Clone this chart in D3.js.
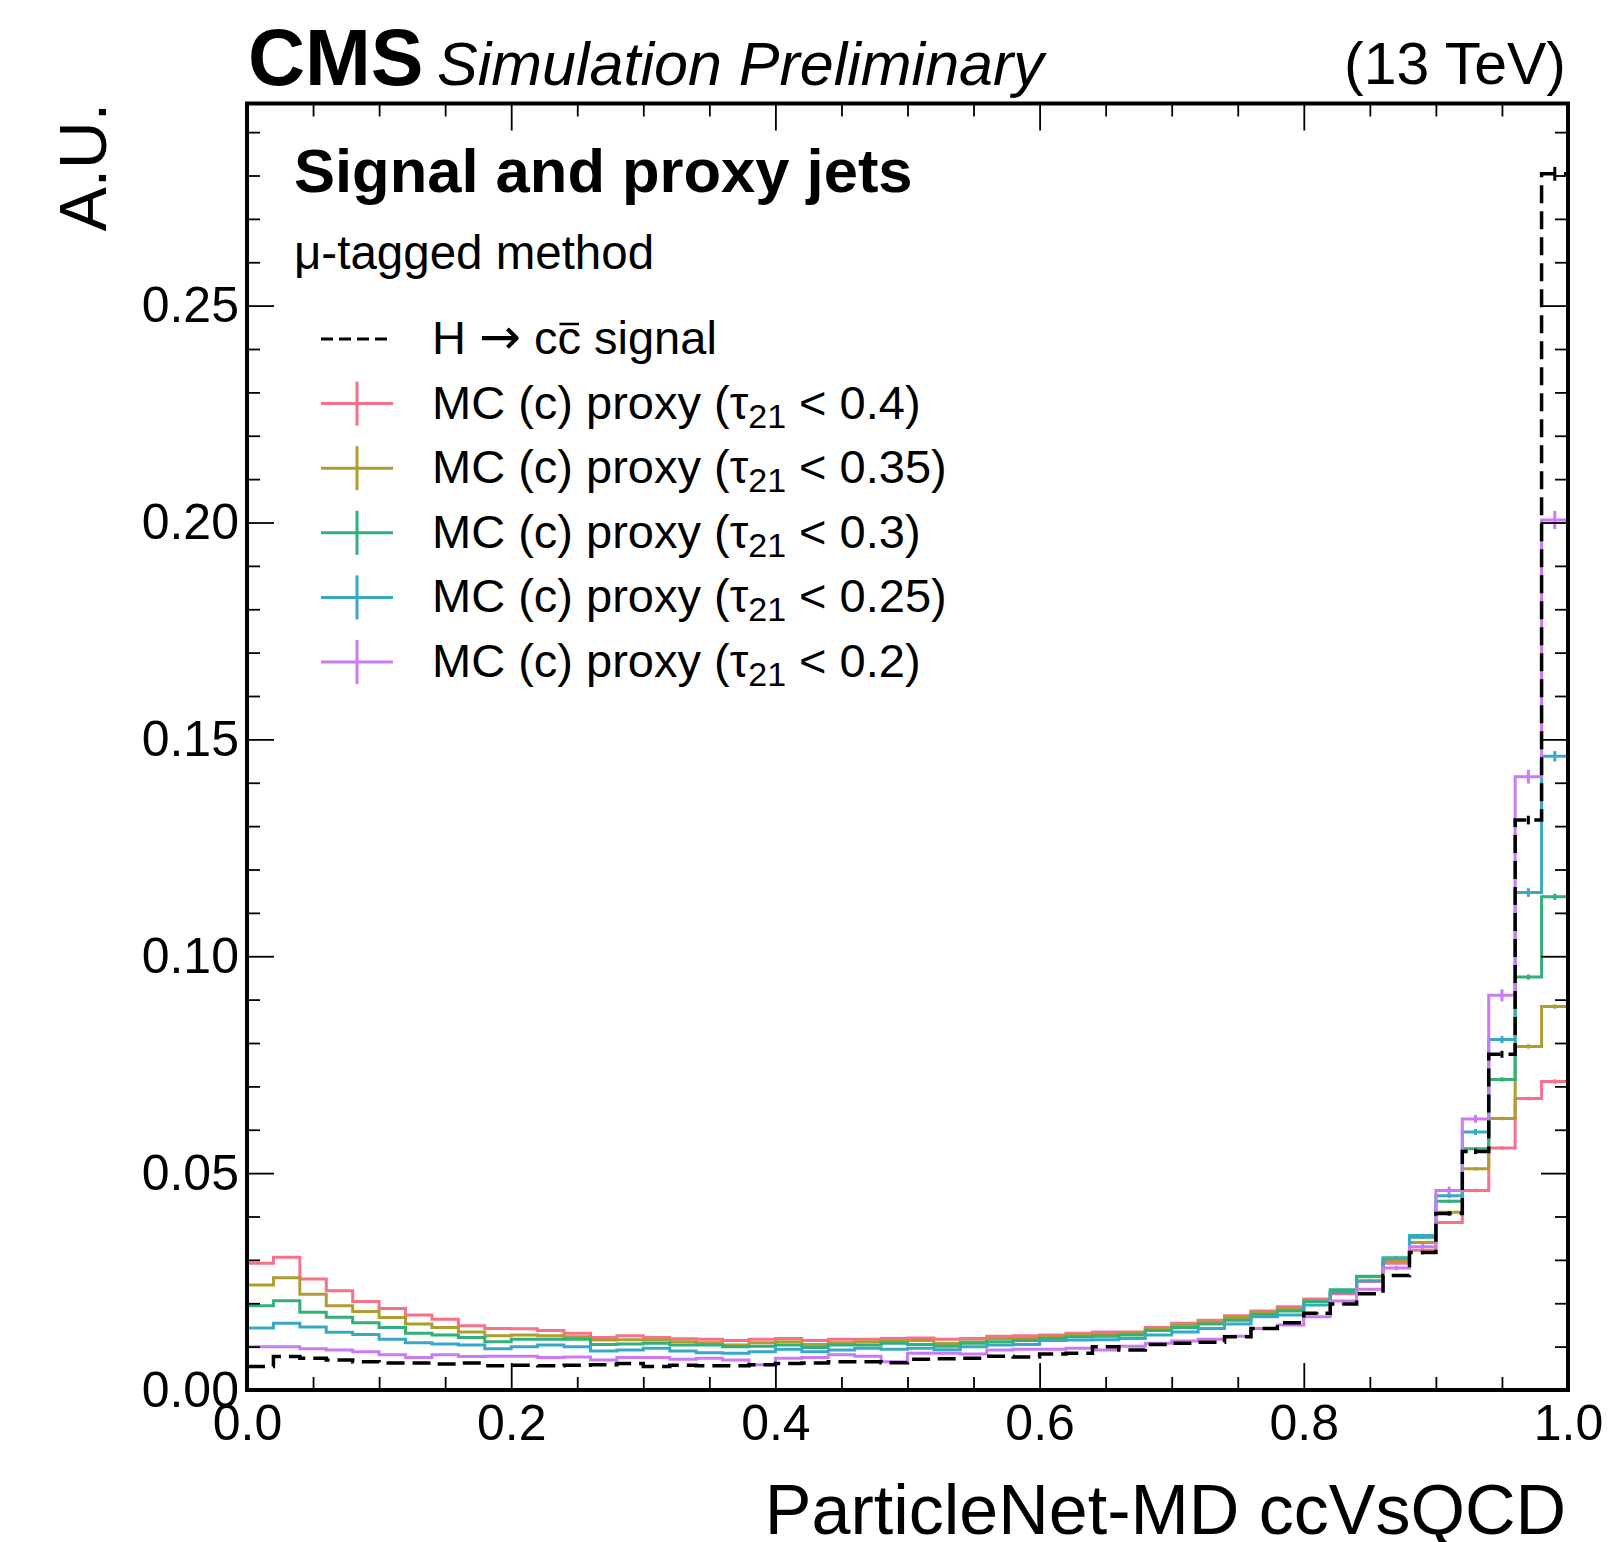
<!DOCTYPE html>
<html>
<head>
<meta charset="utf-8">
<script src="https://cdn.jsdelivr.net/npm/d3@7"></script>
<style>
  body { margin: 0; background: #fff; }
  text { font-family: "Liberation Sans", Arial, Helvetica, sans-serif; fill: #000; }
</style>
</head>
<body>
<script>
// ---- data (50 bins, 0 -> 1, normalised) ----
const nBins = 50
const xTicks = [0, 0.2, 0.4, 0.6, 0.8, 1.0]
const yTicks = [0, 0.05, 0.10, 0.15, 0.20, 0.25]

const signal = [
  .0054, .0077, .0073, .0069, .0065, .0062, .0062, .0060, .0062, .0056,
  .0057, .0056, .0057, .0058, .0061, .0054, .0057, .0056, .0056, .0058,
  .0061, .0062, .0065, .0065, .0063, .0071, .0072, .0073, .0078, .0076,
  .0083, .0085, .0100, .0092, .0105, .0108, .0110, .0123, .0142, .0155,
  .0177, .0198, .0222, .0264, .0317, .0407, .0550, .0774, .1314, .2804]
const tau040 = [
  .0292, .0306, .0256, .0229, .0204, .0188, .0173, .0163, .0148, .0142,
  .0141, .0137, .0131, .0121, .0125, .0121, .0118, .0117, .0114, .0117,
  .0119, .0114, .0117, .0117, .0119, .0120, .0117, .0119, .0124, .0125,
  .0127, .0131, .0134, .0134, .0144, .0154, .0161, .0171, .0182, .0192,
  .0210, .0222, .0250, .0292, .0322, .0386, .0460, .0558, .0672, .0711]
const tau035 = [
  .0242, .0259, .0221, .0194, .0181, .0167, .0152, .0144, .0134, .0125,
  .0127, .0125, .0123, .0115, .0116, .0115, .0111, .0109, .0104, .0109,
  .0111, .0105, .0109, .0111, .0113, .0114, .0107, .0111, .0119, .0119,
  .0123, .0127, .0128, .0131, .0140, .0150, .0157, .0167, .0179, .0188,
  .0206, .0226, .0261, .0298, .0340, .0410, .0510, .0626, .0792, .0884]
const tau030 = [
  .0194, .0206, .0179, .0168, .0155, .0144, .0131, .0127, .0121, .0111,
  .0117, .0117, .0117, .0105, .0106, .0108, .0104, .0104, .0100, .0101,
  .0104, .0098, .0104, .0104, .0108, .0105, .0101, .0108, .0111, .0114,
  .0119, .0123, .0124, .0127, .0137, .0144, .0152, .0161, .0174, .0182,
  .0204, .0231, .0262, .0305, .0352, .0435, .0556, .0716, .0952, .1137]
const tau025 = [
  .0143, .0154, .0145, .0133, .0128, .0117, .0109, .0106, .0104, .0095,
  .0100, .0104, .0100, .0090, .0092, .0096, .0090, .0086, .0085, .0088,
  .0094, .0088, .0092, .0096, .0094, .0096, .0093, .0100, .0104, .0105,
  .0114, .0115, .0116, .0119, .0127, .0134, .0142, .0152, .0169, .0173,
  .0196, .0225, .0252, .0303, .0356, .0448, .0595, .0808, .1147, .1461]
const tau020 = [
  .0100, .0100, .0095, .0092, .0088, .0081, .0075, .0081, .0077, .0078,
  .0078, .0075, .0076, .0069, .0075, .0075, .0071, .0073, .0069, .0058,
  .0073, .0075, .0081, .0078, .0065, .0085, .0085, .0083, .0092, .0094,
  .0094, .0096, .0092, .0101, .0108, .0113, .0117, .0124, .0142, .0150,
  .0169, .0205, .0232, .0281, .0330, .0460, .0625, .0910, .1414, .2006]

// stat. errors of the last ten bins (0.80 - 1.00)
const signalErr = [.0002, .0002, .0003, .0003, .0004, .0005, .0006, .0008, .0010, .0016]
const tau040Err = [.0002, .0002, .0002, .0003, .0003, .0003, .0004, .0004, .0004, .0005]
const tau035Err = [.0002, .0002, .0002, .0003, .0003, .0003, .0004, .0004, .0005, .0005]
const tau030Err = [.0002, .0002, .0002, .0003, .0003, .0004, .0004, .0005, .0006, .0007]
const tau025Err = [.0002, .0002, .0003, .0003, .0004, .0005, .0007, .0008, .0010, .0012]
const tau020Err = [.0002, .0002, .0003, .0005, .0007, .0009, .0009, .0014, .0016, .0021]

const seriesLabels = ["0.4", "0.35", "0.3", "0.25", "0.2"]
const seriesColors = ["#f77189", "#ae9d31", "#33b07a", "#38a9c5", "#cc7af4"]

const proxies = [tau040, tau035, tau030, tau025, tau020].map((v, i) => ({
  values: v, err: [tau040Err, tau035Err, tau030Err, tau025Err, tau020Err][i],
  label: seriesLabels[i], color: seriesColors[i]
}))

// ---- layout ----
const width = 1608, height = 1542
const plot = { left: 247, right: 1568, top: 103.5, bottom: 1390 }

const svg = d3.select("body").append("svg")
  .attr("width", width).attr("height", height)

const x = d3.scaleLinear().domain([0, 1]).range([plot.left, plot.right])
const y = d3.scaleLinear().domain([0, 0.2966]).range([plot.bottom, plot.top])

const edges = d3.range(nBins + 1).map(i => i / nBins)

const step = d3.line()
  .x(d => x(d[0]))
  .y(d => y(d[1]))
  .curve(d3.curveStepAfter)

const stepPoints = vals => edges.map((e, i) => [e, vals[Math.min(i, nBins - 1)]])

const drawHist = (vals, errs, color, dashed) => {
  const g = svg.append("g")
  g.append("path")
    .attr("d", step(stepPoints(vals)))
    .attr("fill", "none")
    .attr("stroke", color)
    .attr("stroke-width", dashed ? 3.5 : 3)
    .attr("stroke-dasharray", dashed ? "18,8" : null)
  const off = nBins - errs.length
  g.selectAll("line")
    .data(errs)
    .join("line")
      .attr("x1", (d, i) => x((edges[off + i] + edges[off + i + 1]) / 2))
      .attr("x2", (d, i) => x((edges[off + i] + edges[off + i + 1]) / 2))
      .attr("y1", (d, i) => y(vals[off + i] - d))
      .attr("y2", (d, i) => y(vals[off + i] + d))
      .attr("stroke", color)
      .attr("stroke-width", 3)
}

proxies.forEach(p => drawHist(p.values, p.err, p.color, false))
drawHist(signal, signalErr, "#000", true)

// ---- axes (inward ticks on all sides) ----
const xMinor = d3.range(0.05, 1, 0.05).filter(v => Math.abs(v * 5 - Math.round(v * 5)) > 1e-6)
const yMinor = d3.range(0.01, 0.2966, 0.01).filter(v => Math.abs(v * 20 - Math.round(v * 20)) > 1e-6)

const styleAxis = g => {
  g.select(".domain").remove()
  g.selectAll(".tick line").attr("stroke", "#000").attr("stroke-width", 1.8)
  g.selectAll("text").attr("font-size", 50).attr("fill", "#000")
    .attr("font-family", "'Liberation Sans', Arial, sans-serif")
}

svg.append("g")
  .attr("transform", `translate(0,${plot.bottom})`)
  .call(d3.axisBottom(x).tickValues(xTicks).tickFormat(d3.format(".1f")).tickSize(-27).tickPadding(14))
  .call(styleAxis)
svg.append("g")
  .attr("transform", `translate(0,${plot.bottom})`)
  .call(d3.axisBottom(x).tickValues(xMinor).tickFormat("").tickSize(-13))
  .call(styleAxis)
svg.append("g")
  .attr("transform", `translate(0,${plot.top})`)
  .call(d3.axisTop(x).tickValues(xTicks).tickFormat("").tickSize(-27))
  .call(styleAxis)
svg.append("g")
  .attr("transform", `translate(0,${plot.top})`)
  .call(d3.axisTop(x).tickValues(xMinor).tickFormat("").tickSize(-13))
  .call(styleAxis)

svg.append("g")
  .attr("transform", `translate(${plot.left},0)`)
  .call(d3.axisLeft(y).tickValues(yTicks).tickFormat(d3.format(".2f")).tickSize(-27).tickPadding(8))
  .call(styleAxis)
svg.append("g")
  .attr("transform", `translate(${plot.left},0)`)
  .call(d3.axisLeft(y).tickValues(yMinor).tickFormat("").tickSize(-13))
  .call(styleAxis)
svg.append("g")
  .attr("transform", `translate(${plot.right},0)`)
  .call(d3.axisRight(y).tickValues(yTicks).tickFormat("").tickSize(-27))
  .call(styleAxis)
svg.append("g")
  .attr("transform", `translate(${plot.right},0)`)
  .call(d3.axisRight(y).tickValues(yMinor).tickFormat("").tickSize(-13))
  .call(styleAxis)

// frame
svg.append("rect")
  .attr("x", plot.left).attr("y", plot.top)
  .attr("width", plot.right - plot.left).attr("height", plot.bottom - plot.top)
  .attr("fill", "none").attr("stroke", "#000").attr("stroke-width", 4)

// axis titles
svg.append("text")
  .attr("x", 1566).attr("y", 1534)
  .attr("text-anchor", "end").attr("font-size", 70)
  .text("ParticleNet-MD ccVsQCD")
svg.append("text")
  .attr("transform", "translate(106,103) rotate(-90)")
  .attr("text-anchor", "end").attr("font-size", 66)
  .text("A.U.")

// header
svg.append("text")
  .attr("x", 248).attr("y", 85)
  .attr("font-size", 79).attr("font-weight", "bold")
  .text("CMS")
svg.append("text")
  .attr("x", 437).attr("y", 85)
  .attr("font-size", 61).attr("font-style", "italic")
  .text("Simulation Preliminary")
svg.append("text")
  .attr("x", 1566).attr("y", 84)
  .attr("text-anchor", "end").attr("font-size", 59)
  .text("(13 TeV)")

svg.append("text")
  .attr("x", 294).attr("y", 192)
  .attr("font-size", 61.5).attr("font-weight", "bold")
  .text("Signal and proxy jets")
svg.append("text")
  .attr("x", 294).attr("y", 269)
  .attr("font-size", 47.5)
  .text("μ-tagged method")

// ---- legend ----
const leg = { x0: 321, x1: 393, tx: 432, base: 354, dy: 64.6, fs: 47 }

const sigRow = svg.append("g")
sigRow.append("line")
  .attr("x1", leg.x0).attr("x2", leg.x1)
  .attr("y1", leg.base - 15).attr("y2", leg.base - 15)
  .attr("stroke", "#000").attr("stroke-width", 3).attr("stroke-dasharray", "12,6")
const sigText = sigRow.append("text")
  .attr("x", leg.tx).attr("y", leg.base)
  .attr("font-size", leg.fs)
sigText.append("tspan").text("H ")
sigText.append("tspan").attr("font-family", "'DejaVu Sans', sans-serif").attr("font-size", 50).text("→")
sigText.append("tspan").text(" cc signal")
// bar over the second c  (chars: H, sp, arrow, sp, c, c)
const cBox = sigText.node().getExtentOfChar(5)
sigRow.append("line")
  .attr("x1", cBox.x + 2).attr("x2", cBox.x + cBox.width - 2)
  .attr("y1", leg.base - 30).attr("y2", leg.base - 30)
  .attr("stroke", "#000").attr("stroke-width", 2.5)

proxies.forEach((p, i) => {
  const by = leg.base + leg.dy * (i + 1)
  const g = svg.append("g")
  const cx = (leg.x0 + leg.x1) / 2
  g.append("line")
    .attr("x1", leg.x0).attr("x2", leg.x1).attr("y1", by - 15).attr("y2", by - 15)
    .attr("stroke", p.color).attr("stroke-width", 3)
  g.append("line")
    .attr("x1", cx).attr("x2", cx).attr("y1", by - 37).attr("y2", by + 7)
    .attr("stroke", p.color).attr("stroke-width", 3)
  const t = g.append("text")
    .attr("x", leg.tx).attr("y", by)
    .attr("font-size", leg.fs)
  t.append("tspan").text("MC (c) proxy (τ")
  t.append("tspan").attr("font-size", 34).attr("dy", 9).text("21")
  t.append("tspan").attr("dy", -9).text("  < " + p.label + ")")
})
</script>
</body>
</html>
